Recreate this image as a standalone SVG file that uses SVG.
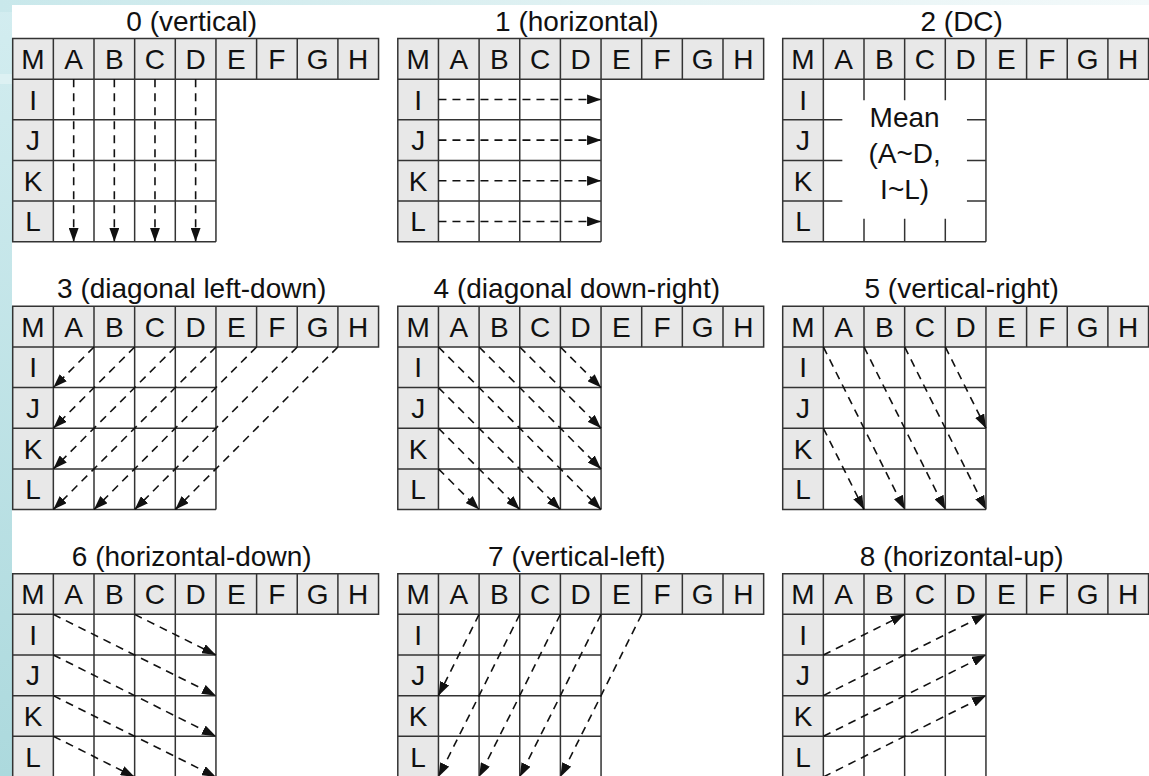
<svg xmlns="http://www.w3.org/2000/svg" xmlns:xlink="http://www.w3.org/1999/xlink" width="1149" height="776" viewBox="0 0 1149 776">
<style>
.hd{fill:#e8e8e8}
.wt{fill:#ffffff}
.gl{fill:none;stroke:#333333;stroke-width:1.5}
.t{font-family:"Liberation Sans",Arial,Helvetica,sans-serif;font-size:28px;fill:#111;text-anchor:middle}
.ti{font-size:28px}
.ar{fill:none;stroke:#111;stroke-width:1.6;stroke-dasharray:8 6;marker-end:url(#ah)}
</style>
<defs>
<linearGradient id="bgL" x1="0" y1="0" x2="0" y2="1">
<stop offset="0" stop-color="#d3edf0"/>
<stop offset="1" stop-color="#acd9dd"/>
</linearGradient>
<linearGradient id="bgT" x1="0" y1="0" x2="1" y2="0">
<stop offset="0" stop-color="#c9e8eb"/>
<stop offset="0.6" stop-color="#e4f3f4"/>
<stop offset="1" stop-color="#f3f9fa"/>
</linearGradient>
<marker id="ah" viewBox="0 0 14 10" refX="14" refY="5" markerWidth="14" markerHeight="10" markerUnits="userSpaceOnUse" orient="auto">
<path d="M0,0L14,5L0,10Z" fill="#111"/>
</marker>
<g id="cells">
<rect class="hd" width="365.85" height="40.65"/>
<rect class="hd" y="40.65" width="40.65" height="162.6"/>
<rect class="wt" x="40.65" y="40.65" width="162.6" height="162.6"/>
</g>
<path id="grid" class="gl" d="M0,0H365.85V40.65H0Z M40.65,0V203.25 M81.3,0V203.25 M121.95,0V203.25 M162.6,0V203.25 M203.25,0V203.25 M243.9,0V40.65 M284.55,0V40.65 M325.2,0V40.65 M0,40.65V203.25H203.25 M0,81.3H203.25 M0,121.95H203.25 M0,162.6H203.25"/>
<path id="gridDC" class="gl" d="M0,0H365.85V40.65H0Z M40.65,0V203.25 M81.3,0V40.65 M121.95,0V40.65 M162.6,0V40.65 M203.25,0V203.25 M243.9,0V40.65 M284.55,0V40.65 M325.2,0V40.65 M0,40.65V203.25H203.25 M0,81.3H40.65 M0,121.95H40.65 M0,162.6H40.65 M81.3,40.65v21 M121.95,40.65v21 M162.6,40.65v21 M81.3,203.25v-23 M121.95,203.25v-23 M162.6,203.25v-23 M40.65,81.3h19 M40.65,121.95h19 M40.65,162.6h19 M203.25,81.3h-19 M203.25,121.95h-19 M203.25,162.6h-19"/>
</defs>

<g id="background">
<rect width="1149" height="776" fill="url(#bgL)"/>
<rect width="1149" height="12" fill="url(#bgT)"/>
<rect x="0" y="74" width="12" height="10" fill="#e2f4f5" opacity="0.7"/>
<rect x="12" y="5" width="1137" height="771" fill="#ffffff"/>
</g>

<g id="p0" transform="translate(12.7,38.5)">
<text class="t ti" x="179" y="-8">0 (vertical)</text>
<use xlink:href="#cells" href="#cells"/>
<use xlink:href="#grid" href="#grid"/>
<text class="t" x="20.33" y="30.3">M</text><text class="t" x="60.98" y="30.3">A</text><text class="t" x="101.63" y="30.3">B</text><text class="t" x="142.28" y="30.3">C</text><text class="t" x="182.93" y="30.3">D</text><text class="t" x="223.58" y="30.3">E</text><text class="t" x="264.23" y="30.3">F</text><text class="t" x="304.88" y="30.3">G</text><text class="t" x="345.53" y="30.3">H</text>
<text class="t" x="20.33" y="71">I</text><text class="t" x="20.33" y="111.6">J</text><text class="t" x="20.33" y="152.3">K</text><text class="t" x="20.33" y="192.9">L</text>
</g>

<g id="p1" transform="translate(397.8,38.5)">
<text class="t ti" x="179" y="-8">1 (horizontal)</text>
<use xlink:href="#cells" href="#cells"/>
<use xlink:href="#grid" href="#grid"/>
<text class="t" x="20.33" y="30.3">M</text><text class="t" x="60.98" y="30.3">A</text><text class="t" x="101.63" y="30.3">B</text><text class="t" x="142.28" y="30.3">C</text><text class="t" x="182.93" y="30.3">D</text><text class="t" x="223.58" y="30.3">E</text><text class="t" x="264.23" y="30.3">F</text><text class="t" x="304.88" y="30.3">G</text><text class="t" x="345.53" y="30.3">H</text>
<text class="t" x="20.33" y="71">I</text><text class="t" x="20.33" y="111.6">J</text><text class="t" x="20.33" y="152.3">K</text><text class="t" x="20.33" y="192.9">L</text>
</g>

<g id="p2" transform="translate(782.7,38.5)">
<text class="t ti" x="179" y="-8">2 (DC)</text>
<use xlink:href="#cells" href="#cells"/>
<use xlink:href="#gridDC" href="#gridDC"/>
<text class="t" x="20.33" y="30.3">M</text><text class="t" x="60.98" y="30.3">A</text><text class="t" x="101.63" y="30.3">B</text><text class="t" x="142.28" y="30.3">C</text><text class="t" x="182.93" y="30.3">D</text><text class="t" x="223.58" y="30.3">E</text><text class="t" x="264.23" y="30.3">F</text><text class="t" x="304.88" y="30.3">G</text><text class="t" x="345.53" y="30.3">H</text>
<text class="t" x="20.33" y="71">I</text><text class="t" x="20.33" y="111.6">J</text><text class="t" x="20.33" y="152.3">K</text><text class="t" x="20.33" y="192.9">L</text>
<text class="t" x="121.95" y="88">Mean</text>
<text class="t" x="121.95" y="124.5">(A~D,</text>
<text class="t" x="121.95" y="160.5">I~L)</text>
</g>

<g id="p3" transform="translate(12.7,306.3)">
<text class="t ti" x="179" y="-8">3 (diagonal left-down)</text>
<use xlink:href="#cells" href="#cells"/>
<use xlink:href="#grid" href="#grid"/>
<text class="t" x="20.33" y="30.3">M</text><text class="t" x="60.98" y="30.3">A</text><text class="t" x="101.63" y="30.3">B</text><text class="t" x="142.28" y="30.3">C</text><text class="t" x="182.93" y="30.3">D</text><text class="t" x="223.58" y="30.3">E</text><text class="t" x="264.23" y="30.3">F</text><text class="t" x="304.88" y="30.3">G</text><text class="t" x="345.53" y="30.3">H</text>
<text class="t" x="20.33" y="71">I</text><text class="t" x="20.33" y="111.6">J</text><text class="t" x="20.33" y="152.3">K</text><text class="t" x="20.33" y="192.9">L</text>
</g>

<g id="p4" transform="translate(397.8,306.3)">
<text class="t ti" x="179" y="-8">4 (diagonal down-right)</text>
<use xlink:href="#cells" href="#cells"/>
<use xlink:href="#grid" href="#grid"/>
<text class="t" x="20.33" y="30.3">M</text><text class="t" x="60.98" y="30.3">A</text><text class="t" x="101.63" y="30.3">B</text><text class="t" x="142.28" y="30.3">C</text><text class="t" x="182.93" y="30.3">D</text><text class="t" x="223.58" y="30.3">E</text><text class="t" x="264.23" y="30.3">F</text><text class="t" x="304.88" y="30.3">G</text><text class="t" x="345.53" y="30.3">H</text>
<text class="t" x="20.33" y="71">I</text><text class="t" x="20.33" y="111.6">J</text><text class="t" x="20.33" y="152.3">K</text><text class="t" x="20.33" y="192.9">L</text>
</g>

<g id="p5" transform="translate(782.7,306.3)">
<text class="t ti" x="179" y="-8">5 (vertical-right)</text>
<use xlink:href="#cells" href="#cells"/>
<use xlink:href="#grid" href="#grid"/>
<text class="t" x="20.33" y="30.3">M</text><text class="t" x="60.98" y="30.3">A</text><text class="t" x="101.63" y="30.3">B</text><text class="t" x="142.28" y="30.3">C</text><text class="t" x="182.93" y="30.3">D</text><text class="t" x="223.58" y="30.3">E</text><text class="t" x="264.23" y="30.3">F</text><text class="t" x="304.88" y="30.3">G</text><text class="t" x="345.53" y="30.3">H</text>
<text class="t" x="20.33" y="71">I</text><text class="t" x="20.33" y="111.6">J</text><text class="t" x="20.33" y="152.3">K</text><text class="t" x="20.33" y="192.9">L</text>
</g>

<g id="p6" transform="translate(12.7,573.7)">
<text class="t ti" x="179" y="-8">6 (horizontal-down)</text>
<use xlink:href="#cells" href="#cells"/>
<use xlink:href="#grid" href="#grid"/>
<text class="t" x="20.33" y="30.3">M</text><text class="t" x="60.98" y="30.3">A</text><text class="t" x="101.63" y="30.3">B</text><text class="t" x="142.28" y="30.3">C</text><text class="t" x="182.93" y="30.3">D</text><text class="t" x="223.58" y="30.3">E</text><text class="t" x="264.23" y="30.3">F</text><text class="t" x="304.88" y="30.3">G</text><text class="t" x="345.53" y="30.3">H</text>
<text class="t" x="20.33" y="71">I</text><text class="t" x="20.33" y="111.6">J</text><text class="t" x="20.33" y="152.3">K</text><text class="t" x="20.33" y="192.9">L</text>
</g>

<g id="p7" transform="translate(397.8,573.7)">
<text class="t ti" x="179" y="-8">7 (vertical-left)</text>
<use xlink:href="#cells" href="#cells"/>
<use xlink:href="#grid" href="#grid"/>
<text class="t" x="20.33" y="30.3">M</text><text class="t" x="60.98" y="30.3">A</text><text class="t" x="101.63" y="30.3">B</text><text class="t" x="142.28" y="30.3">C</text><text class="t" x="182.93" y="30.3">D</text><text class="t" x="223.58" y="30.3">E</text><text class="t" x="264.23" y="30.3">F</text><text class="t" x="304.88" y="30.3">G</text><text class="t" x="345.53" y="30.3">H</text>
<text class="t" x="20.33" y="71">I</text><text class="t" x="20.33" y="111.6">J</text><text class="t" x="20.33" y="152.3">K</text><text class="t" x="20.33" y="192.9">L</text>
</g>

<g id="p8" transform="translate(782.7,573.7)">
<text class="t ti" x="179" y="-8">8 (horizontal-up)</text>
<use xlink:href="#cells" href="#cells"/>
<use xlink:href="#grid" href="#grid"/>
<text class="t" x="20.33" y="30.3">M</text><text class="t" x="60.98" y="30.3">A</text><text class="t" x="101.63" y="30.3">B</text><text class="t" x="142.28" y="30.3">C</text><text class="t" x="182.93" y="30.3">D</text><text class="t" x="223.58" y="30.3">E</text><text class="t" x="264.23" y="30.3">F</text><text class="t" x="304.88" y="30.3">G</text><text class="t" x="345.53" y="30.3">H</text>
<text class="t" x="20.33" y="71">I</text><text class="t" x="20.33" y="111.6">J</text><text class="t" x="20.33" y="152.3">K</text><text class="t" x="20.33" y="192.9">L</text>
</g>

<g id="connectors">
<g id="c0" transform="translate(12.7,38.5)">
<path class="ar" d="M60.98,40.65V203.25"/>
<path class="ar" d="M101.63,40.65V203.25"/>
<path class="ar" d="M142.28,40.65V203.25"/>
<path class="ar" d="M182.93,40.65V203.25"/>
</g>
<g id="c1" transform="translate(397.8,38.5)">
<path class="ar" d="M40.65,60.98H203.25"/>
<path class="ar" d="M40.65,101.63H203.25"/>
<path class="ar" d="M40.65,142.28H203.25"/>
<path class="ar" d="M40.65,182.93H203.25"/>
</g>
<g id="c3" transform="translate(12.7,306.3)">
<path class="ar" d="M81.3,40.65L40.65,81.3"/>
<path class="ar" d="M121.95,40.65L40.65,121.95"/>
<path class="ar" d="M162.6,40.65L40.65,162.6"/>
<path class="ar" d="M203.25,40.65L40.65,203.25"/>
<path class="ar" d="M243.9,40.65L81.3,203.25"/>
<path class="ar" d="M284.55,40.65L121.95,203.25"/>
<path class="ar" d="M325.2,40.65L162.6,203.25"/>
</g>
<g id="c4" transform="translate(397.8,306.3)">
<path class="ar" d="M162.6,40.65L203.25,81.3"/>
<path class="ar" d="M121.95,40.65L203.25,121.95"/>
<path class="ar" d="M81.3,40.65L203.25,162.6"/>
<path class="ar" d="M40.65,40.65L203.25,203.25"/>
<path class="ar" d="M40.65,81.3L162.6,203.25"/>
<path class="ar" d="M40.65,121.95L121.95,203.25"/>
<path class="ar" d="M40.65,162.6L81.3,203.25"/>
</g>
<g id="c5" transform="translate(782.7,306.3)">
<path class="ar" d="M162.6,40.65L203.25,121.95"/>
<path class="ar" d="M121.95,40.65L203.25,203.25"/>
<path class="ar" d="M81.3,40.65L162.6,203.25"/>
<path class="ar" d="M40.65,40.65L121.95,203.25"/>
<path class="ar" d="M40.65,121.95L81.3,203.25"/>
</g>
<g id="c6" transform="translate(12.7,573.7)">
<path class="ar" d="M121.95,40.65L203.25,81.3"/>
<path class="ar" d="M40.65,40.65L203.25,121.95"/>
<path class="ar" d="M40.65,81.3L203.25,162.6"/>
<path class="ar" d="M40.65,121.95L203.25,203.25"/>
<path class="ar" d="M40.65,162.6L121.95,203.25"/>
</g>
<g id="c7" transform="translate(397.8,573.7)">
<path class="ar" d="M81.3,40.65L40.65,121.95"/>
<path class="ar" d="M121.95,40.65L40.65,203.25"/>
<path class="ar" d="M162.6,40.65L81.3,203.25"/>
<path class="ar" d="M203.25,40.65L121.95,203.25"/>
<path class="ar" d="M243.9,40.65L162.6,203.25"/>
</g>
<g id="c8" transform="translate(782.7,573.7)">
<path class="ar" d="M40.65,81.3L121.95,40.65"/>
<path class="ar" d="M40.65,121.95L203.25,40.65"/>
<path class="ar" d="M40.65,162.6L203.25,81.3"/>
<path class="ar" d="M40.65,203.25L203.25,121.95"/>
</g>
</g>
</svg>
